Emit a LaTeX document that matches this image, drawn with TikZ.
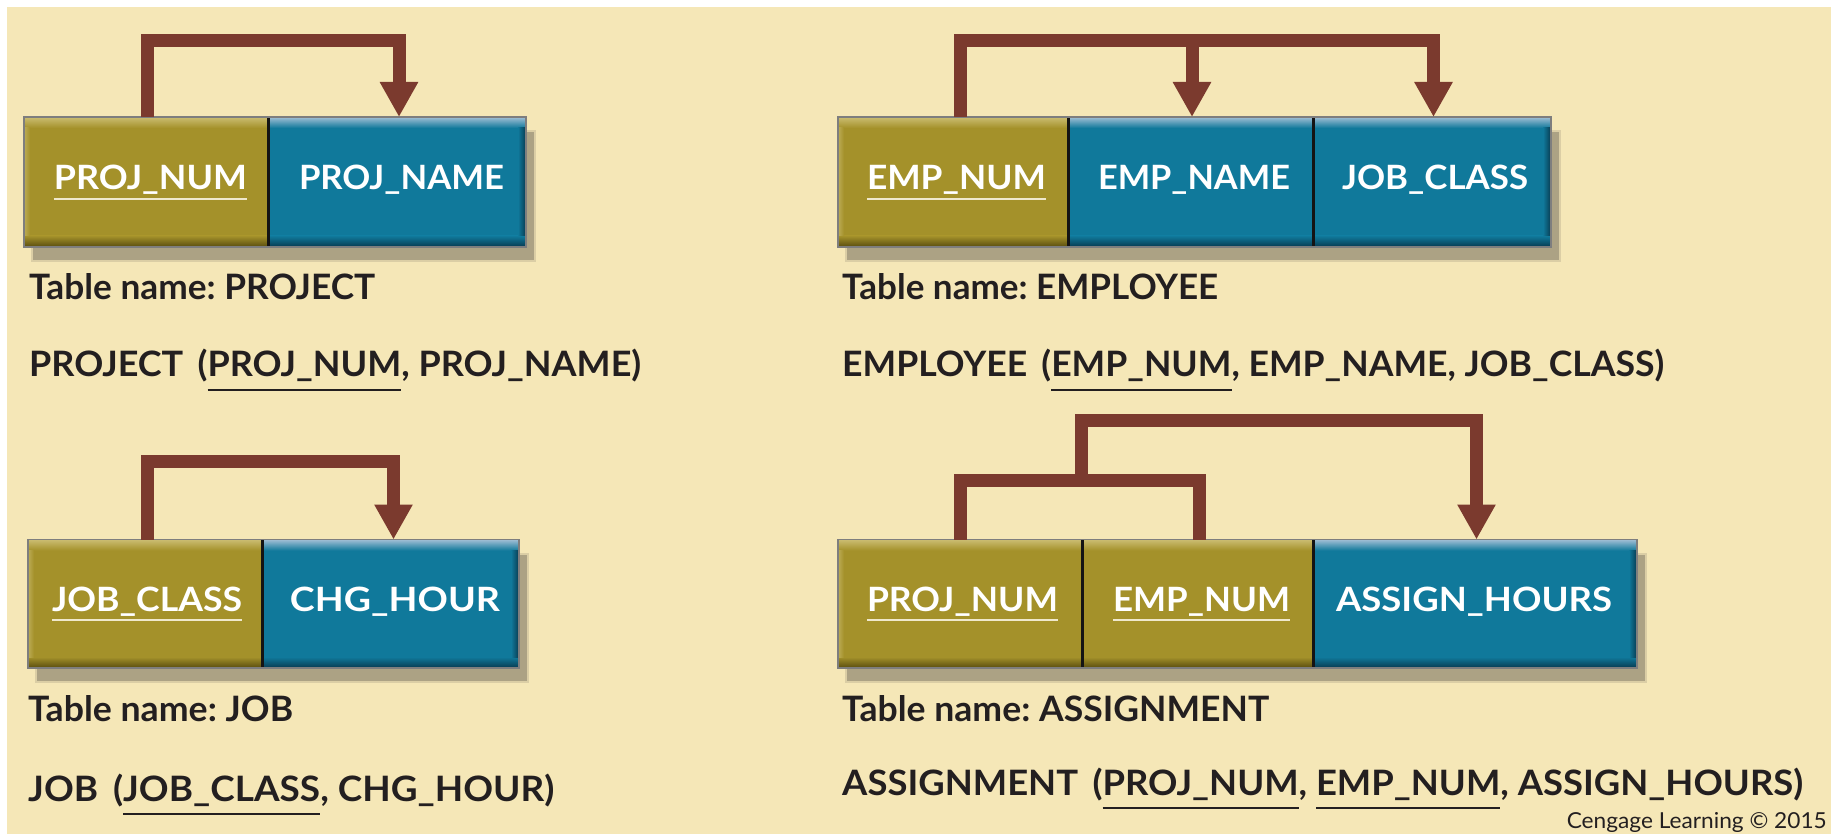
\documentclass[tikz,border=0pt]{standalone}
\usepackage{fontspec}
\usepackage{graphicx}
\setmainfont{Lato}
\usetikzlibrary{arrows.meta,calc}
\frenchspacing

\definecolor{paper}{HTML}{F5E7B7}
\definecolor{ink}{HTML}{231F20}
\definecolor{fdbrown}{HTML}{7B3A2E}
\definecolor{castshadow}{HTML}{ACA284}
\definecolor{rimgray}{HTML}{7E7E7E}
\definecolor{keycream}{HTML}{EFE8CC}
\definecolor{olbase}{HTML}{A4912A}
\definecolor{ollight}{HTML}{CBBD72}
\definecolor{oldark}{HTML}{584C0F}
\definecolor{blbase}{HTML}{10799B}
\definecolor{bllight}{HTML}{A2BFD5}
\definecolor{bldark}{HTML}{083A50}

% underline a key field: depth, thickness, colour, text
\newcommand\keyline[4]{\setbox0=\hbox{#4}\rlap{\color{#3}\rule[-#1]{\wd0}{#2}}\box0}
% set a text to a given width (in pt), keeping its height
\newcommand\fitw[2]{\resizebox{#1pt}{\height}{#2}}

% one attribute cell: name, x1, x2, y1, y2, colour prefix
\newcommand\attrcell[6]{%
  \node[cellbox, fill=#6base, minimum width={(#3-#2)*1pt}, minimum height={(#5-#4)*1pt}]
    (#1) at ({(#2+#3)/2},{(#4+#5)/2}) {};
  \shade[top color=#6light, bottom color=#6base] (#2,#4) rectangle (#3,#4+11);
  \shade[top color=#6base, bottom color=#6dark] (#2,#5-11) rectangle (#3,#5);
}
% bevelled left and right ends of a table bar: x1, x2, y1, y2, left prefix, right prefix
\newcommand\barsides[6]{%
  \shade[left color=#5light!60!#5base, right color=#5base] (#1,#3+11) rectangle (#1+6,#4-11);
  \shade[left color=#6base, right color=#6dark] (#2-8,#3+11) rectangle (#2,#4-11);
}
% soft drop shadow under a table bar: x1, x2, y1, y2
\newcommand\barshadow[4]{%
  \fill[castshadow, opacity=.35] (#1+7,#3+13) rectangle (#2+10,#4+15);
  \fill[castshadow] (#1+9,#3+15) rectangle (#2+8,#4+13);
}

\tikzset{
  cellbox/.style={rectangle, inner sep=0pt, outer sep=0pt, draw=none},
  divider/.style={draw=black!92, line width=3pt},
  rim/.style={draw=rimgray, line width=1.2pt},
  celltext/.style={inner sep=0pt, anchor=base, text=white,
    font=\fontsize{33.5}{40}\selectfont\bfseries},
  tabletext/.style={inner sep=0pt, anchor=base west, text=ink,
    font=\fontsize{35}{42}\selectfont\bfseries},
  credit/.style={inner sep=0pt, anchor=base east, text=ink,
    font=\fontsize{22}{26}\selectfont},
  fd/.style={draw=fdbrown, line width=13pt, line join=miter},
  fdtip/.style={fd, -{Triangle[width=36pt,length=35pt]}},
}

\begin{document}
\begin{tikzpicture}[x=1pt,y=-1pt]
\useasboundingbox (0,0) rectangle (1837,834);
\fill[white] (0,0) rectangle (1837,834);
\fill[paper] (7,7) rectangle (1831,834);

% ---------- PROJECT ----------
\barshadow{24}{526}{117}{247}
\attrcell{p1a}{24}{268}{117}{247}{ol}
\attrcell{p1b}{268}{526}{117}{247}{bl}
\barsides{24}{526}{117}{247}{ol}{bl}
\draw[divider] (p1a.north east) -- (p1a.south east);
\draw[rim] (p1a.north west) rectangle (p1b.south east);
\node[celltext] (p1al) at (150.5,190) {\fitw{193}{\keyline{10pt}{2pt}{keycream}{PROJ\_NUM}}};
\node[celltext] (p1bl) at (401.5,190) {\fitw{205}{PROJ\_NAME}};

% ---------- EMPLOYEE ----------
\barshadow{838}{1551}{117}{247}
\attrcell{e1}{838}{1068}{117}{247}{ol}
\attrcell{e2}{1068}{1313}{117}{247}{bl}
\attrcell{e3}{1313}{1551}{117}{247}{bl}
\barsides{838}{1551}{117}{247}{ol}{bl}
\draw[divider] (e1.north east) -- (e1.south east);
\draw[divider] (e2.north east) -- (e2.south east);
\draw[rim] (e1.north west) rectangle (e3.south east);
\node[celltext] (e1l) at (956.5,190) {\fitw{179}{\keyline{10pt}{2pt}{keycream}{EMP\_NUM}}};
\node[celltext] (e2l) at (1194,190) {\fitw{192}{EMP\_NAME}};
\node[celltext] (e3l) at (1435,190) {\fitw{186}{JOB\_CLASS}};

% ---------- JOB ----------
\barshadow{28}{519}{539.5}{668}
\attrcell{j1}{28}{262}{539.5}{668}{ol}
\attrcell{j2}{262}{519}{539.5}{668}{bl}
\barsides{28}{519}{539.5}{668}{ol}{bl}
\draw[divider] (j1.north east) -- (j1.south east);
\draw[rim] (j1.north west) rectangle (j2.south east);
\node[celltext] (j1l) at (147,611) {\fitw{190}{\keyline{10pt}{2pt}{keycream}{JOB\_CLASS}}};
\node[celltext] (j2l) at (395,611) {\fitw{210}{CHG\_HOUR}};

% ---------- ASSIGNMENT ----------
\barshadow{838}{1637}{539.5}{668}
\attrcell{a1}{838}{1082}{539.5}{668}{ol}
\attrcell{a2}{1082}{1313}{539.5}{668}{ol}
\attrcell{a3}{1313}{1637}{539.5}{668}{bl}
\barsides{838}{1637}{539.5}{668}{ol}{bl}
\draw[divider] (a1.north east) -- (a1.south east);
\draw[divider] (a2.north east) -- (a2.south east);
\draw[rim] (a1.north west) rectangle (a3.south east);
\node[celltext] (a1l) at (962.5,611) {\fitw{191}{\keyline{10pt}{2pt}{keycream}{PROJ\_NUM}}};
\node[celltext] (a2l) at (1201.5,611) {\fitw{177}{\keyline{10pt}{2pt}{keycream}{EMP\_NUM}}};
\node[celltext] (a3l) at (1474,611) {\fitw{276}{ASSIGN\_HOURS}};

% ---------- functional dependencies ----------
\coordinate (topbar) at (0,40.5);
\coordinate (jobbar) at (0,461);
\coordinate (lowbar) at (0,480.5);
\coordinate (highbar) at (0,420.5);

\coordinate (p1s) at ($(p1a.north)+(1.5,0)$);
\coordinate (p1t) at ($(p1b.north)+(2,0)$);
\draw[fdtip] (p1s) -- (p1s |- topbar) -| (p1t);

\coordinate (e1s) at ($(e1.north)+(7.5,0)$);
\coordinate (e2t) at ($(e2.north)+(1.5,0)$);
\coordinate (e3t) at ($(e3.north)+(1.5,0)$);
\draw[fdtip] (e1s) -- (e1s |- topbar) -| (e3t);
\draw[fdtip] (e2t |- topbar) -- (e2t);

\coordinate (j1s) at ($(j1.north)+(2.5,0)$);
\coordinate (j2t) at ($(j2.north)+(3,0)$);
\draw[fdtip] (j1s) -- (j1s |- jobbar) -| (j2t);

\coordinate (a1s) at ($(a1.north)+(0.5,0)$);
\coordinate (a2s) at ($(a2.north)+(1.5,0)$);
\coordinate (a3t) at ($(a3.north)+(1.5,0)$);
\coordinate (ajoin) at ($(a1.north east)+(-0.5,0)$);
\draw[fd] (a1s) -- (a1s |- lowbar) -| (a2s);
\draw[fdtip] (ajoin |- lowbar) -- (ajoin |- highbar) -| (a3t);

% ---------- captions and relation schemas ----------
\node[tabletext] (t1) at (29,300) {\fitw{346}{Table name: PROJECT}};
\node[tabletext] (r1) at (29,377) {\fitw{612}{PROJECT\hspace{14pt}(\keyline{14pt}{2pt}{ink}{PROJ\_NUM}, PROJ\_NAME)}};
\node[tabletext] (t2) at (842,300) {\fitw{376}{Table name: EMPLOYEE}};
\node[tabletext] (r2) at (842,377) {\fitw{822}{EMPLOYEE\hspace{14pt}(\keyline{14pt}{2pt}{ink}{EMP\_NUM}, EMP\_NAME, JOB\_CLASS)}};
\node[tabletext] (t3) at (28,721) {\fitw{265}{Table name: JOB}};
\node[tabletext] (r3) at (28,801) {\fitw{526}{JOB\hspace{14pt}(\keyline{14pt}{2pt}{ink}{JOB\_CLASS}, CHG\_HOUR)}};
\node[tabletext] (t4) at (842,721) {\fitw{427}{Table name: ASSIGNMENT}};
\node[tabletext] (r4) at (842,795) {\fitw{961}{ASSIGNMENT\hspace{14pt}(\keyline{14pt}{2pt}{ink}{PROJ\_NUM}, \keyline{14pt}{2pt}{ink}{EMP\_NUM}, ASSIGN\_HOURS)}};
\node[credit] (cr) at (1827,828) {\fitw{260}{Cengage Learning © 2015}};
\end{tikzpicture}
\end{document}
